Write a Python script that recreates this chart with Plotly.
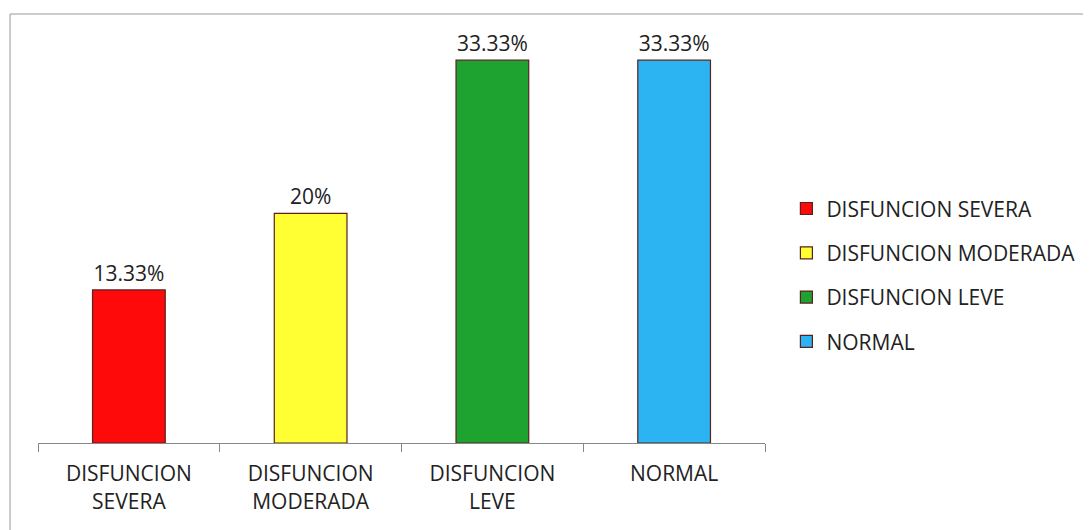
import plotly.graph_objects as go

categories = ["DISFUNCION SEVERA", "DISFUNCION MODERADA", "DISFUNCION LEVE", "NORMAL"]
tick_labels = ["DISFUNCION<br>SEVERA", "DISFUNCION<br>MODERADA", "DISFUNCION<br>LEVE", "NORMAL"]
values = [13.33, 20, 33.33, 33.33]
value_labels = ["13.33%", "20%", "33.33%", "33.33%"]
colors = ["#FF0A0A", "#FFFF33", "#1FA330", "#2CB4F2"]

W, H = 1083, 522
L, R, T, B = 30, 325, 33, 87
PW, PH = W - L - R, H - T - B

fig = go.Figure()
for cat, v, lab, c in zip(categories, values, value_labels, colors):
    fig.add_trace(go.Bar(
        x=[cat], y=[v], name=cat, text=[lab], textposition="outside",
        textfont=dict(size=21, color="#222"), cliponaxis=False,
        marker=dict(color=c, line=dict(color="#5A2020", width=1.2)),
        legendgroup=cat,
    ))

fig.update_layout(
    width=W, height=H,
    margin=dict(l=L, r=R, t=T, b=B),
    paper_bgcolor="white", plot_bgcolor="white",
    barmode="overlay", bargap=0.6,
    font=dict(family="Open Sans, Lato, sans-serif", size=21, color="#222"),
    showlegend=True,
    legend=dict(x=1.028, y=0.417, xanchor="left", yanchor="middle",
                traceorder="grouped", tracegroupgap=14,
                font=dict(size=21), itemwidth=30),
    xaxis=dict(tickmode="array", tickvals=categories, ticktext=tick_labels,
               showline=True, linecolor="#888", linewidth=1,
               ticks="outside", tickson="boundaries", ticklen=8, tickcolor="#888",
               tickfont=dict(size=21), ticklabelstandoff=12,
               showgrid=False, fixedrange=True),
    yaxis=dict(range=[0, 35], visible=False, showgrid=False),
    shapes=[dict(type="rect", xref="paper", yref="paper",
                 x0=(2 - L) / PW, x1=(1095 - L) / PW,
                 y0=-0.4, y1=(PH + T - 6) / PH,
                 line=dict(color="#999", width=1))],
)

fig.write_html("out.html")
